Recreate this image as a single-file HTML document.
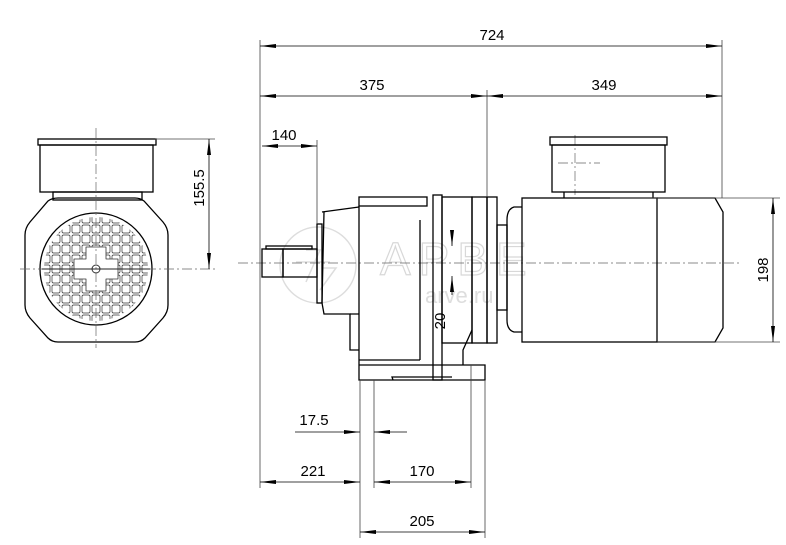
<!DOCTYPE html>
<html><head><style>html,body{margin:0;padding:0;background:#fff}svg{display:block}</style></head>
<body>
<svg width="786" height="545" viewBox="0 0 786 545" xmlns="http://www.w3.org/2000/svg" font-family="Liberation Sans, sans-serif">
<defs>
<marker id="a" viewBox="0 0 16 6" refX="16" refY="3" markerWidth="16" markerHeight="6" markerUnits="userSpaceOnUse" orient="auto-start-reverse"><path d="M0,1 L16,3 L0,5 Z" fill="#000"/></marker>
<pattern id="g" x="41" y="214" width="10" height="10" patternUnits="userSpaceOnUse"><rect x="1" y="1" width="8" height="8" rx="1.5" fill="none" stroke="#333" stroke-width="0.7"/></pattern>
<clipPath id="c"><circle cx="96" cy="269" r="52"/></clipPath>
</defs>
<!-- watermark -->
<g fill="none" stroke="#ddd" stroke-width="1.5">
<circle cx="318" cy="265" r="38"/>
<path d="M296,262 L330,262 M306,250 L320,250 L306,282 M322,268 L336,268 L320,290"/>
</g>
<text x="380" y="275" font-size="46" fill="none" stroke="#d8d8d8" stroke-width="1.2" letter-spacing="8">APBE</text>
<text x="425" y="303" font-size="22" fill="#ddd">arve.ru</text>

<g stroke="#000" fill="none" stroke-width="1.3">
<!-- left view -->
<rect x="38" y="139" width="118" height="6"/>
<rect x="40" y="145" width="113" height="47"/>
<rect x="53" y="192" width="89" height="8"/>
<path d="M58,198 L135,198 Q140,198 144,201 L163,222 Q168,228 168,235 L168,305 Q168,312 163,318 L145,338 Q141,342 135,342 L58,342 Q52,342 48,338 L30,318 Q25,312 25,305 L25,235 Q25,228 30,222 L48,201 Q52,198 58,198 Z"/>
<circle cx="96" cy="269" r="56"/>
</g>
<g clip-path="url(#c)">
<rect x="40" y="213" width="112" height="112" fill="url(#g)"/>
<path d="M86,247 L106,247 L106,259 L118,259 L118,279 L106,279 L106,291 L86,291 L86,279 L74,279 L74,259 L86,259 Z" fill="#fff" stroke="#333" stroke-width="0.8" stroke-linejoin="round"/>
</g>
<circle cx="96" cy="269" r="4" fill="none" stroke="#333"/>
<g stroke="#666" stroke-width="0.7" stroke-dasharray="10,3,2,3" fill="none">
<line x1="96" y1="128" x2="96" y2="348"/>
<line x1="20" y1="269" x2="215" y2="269"/>
<line x1="575" y1="135" x2="575" y2="195"/>
<line x1="558" y1="163" x2="600" y2="163"/>
<line x1="238" y1="263" x2="740" y2="263"/>
</g>
<line x1="42" y1="269" x2="150" y2="269" stroke="#222" stroke-width="1"/>

<!-- gearbox -->
<g stroke="#000" fill="none" stroke-width="1.3">
<rect x="262" y="249" width="21" height="28"/>
<rect x="266" y="246" width="46" height="3"/>
<rect x="283" y="249" width="34" height="28"/>
<rect x="317" y="224" width="5" height="79"/>
<path d="M322,212 L359,207 M322,303 L324,314 L350,314 L350,350 L359,350"/>
<path d="M350,314 L359,314 M324,212 L322,303"/>
<rect x="359" y="197" width="68" height="9"/>
<path d="M359,206 L359,365 L485,365 L485,380 L393,380 L392,377 L452,377 M359,365 L359,380 L393,380"/>
<line x1="420" y1="220" x2="420" y2="360"/>
<path d="M359,360 L420,360"/>
<rect x="433" y="195" width="9" height="185"/>
<rect x="442" y="197" width="30" height="146"/>
<rect x="472" y="197" width="15" height="146"/>
<rect x="487" y="197" width="10" height="146"/>
<path d="M472,330 L463,350 L463,365"/>
<!-- motor -->
<path d="M522,207 L514,207 Q507,209 507,220 L507,320 Q507,330 514,332 L522,332"/>
<rect x="497" y="225" width="10" height="85"/>
<rect x="522" y="198" width="135" height="144"/>
<path d="M657,198 L715,198 L723,212 L723,328 L715,342 L657,342"/>
<rect x="550" y="137" width="117" height="8"/>
<rect x="552" y="145" width="113" height="47"/>
<path d="M564,192 L564,198 M653,192 L653,198"/>
</g>

<!-- dimension lines -->
<g stroke="#444" stroke-width="0.8" fill="none">
<line x1="260" y1="40" x2="260" y2="488"/>
<line x1="722" y1="40" x2="722" y2="198"/>
<line x1="487" y1="90" x2="487" y2="197"/>
<line x1="317" y1="140" x2="317" y2="224"/>
<line x1="155" y1="139" x2="215" y2="139"/>
<line x1="610" y1="198" x2="780" y2="198"/>
<line x1="657" y1="342" x2="780" y2="342"/>
<line x1="360" y1="380" x2="360" y2="538"/>
<line x1="374" y1="380" x2="374" y2="488"/>
<line x1="471" y1="365" x2="471" y2="488"/>
<line x1="485" y1="380" x2="485" y2="538"/>
</g>
<g stroke="#000" stroke-width="0.8" fill="none">
<line x1="260" y1="46" x2="722" y2="46" marker-start="url(#a)" marker-end="url(#a)"/>
<line x1="260" y1="96" x2="487" y2="96" marker-start="url(#a)" marker-end="url(#a)"/>
<line x1="487" y1="96" x2="722" y2="96" marker-start="url(#a)" marker-end="url(#a)"/>
<line x1="262" y1="146" x2="317" y2="146" marker-start="url(#a)" marker-end="url(#a)"/>
<line x1="209" y1="139" x2="209" y2="269" marker-start="url(#a)" marker-end="url(#a)"/>
<line x1="773" y1="198" x2="773" y2="342" marker-start="url(#a)" marker-end="url(#a)"/>
<line x1="452" y1="230" x2="452" y2="246" marker-end="url(#a)"/>
<line x1="452" y1="295" x2="452" y2="276" marker-end="url(#a)"/>
<line x1="295" y1="432" x2="360" y2="432" marker-end="url(#a)"/>
<line x1="407" y1="432" x2="374" y2="432" marker-end="url(#a)"/>
<line x1="260" y1="482" x2="360" y2="482" marker-start="url(#a)" marker-end="url(#a)"/>
<line x1="374" y1="482" x2="471" y2="482" marker-start="url(#a)" marker-end="url(#a)"/>
<line x1="360" y1="532" x2="485" y2="532" marker-start="url(#a)" marker-end="url(#a)"/>
</g>
<g font-size="15" fill="#000" text-anchor="middle">
<text x="492" y="40">724</text>
<text x="372" y="90">375</text>
<text x="604" y="90">349</text>
<text x="284" y="140">140</text>
<text x="314" y="425">17.5</text>
<text x="313" y="476">221</text>
<text x="422" y="476">170</text>
<text x="422" y="526">205</text>
<text transform="translate(204,188) rotate(-90)">155.5</text>
<text transform="translate(768,270) rotate(-90)">198</text>
<text transform="translate(445,321) rotate(-90)">20</text>
</g>
</svg>
</body></html>
